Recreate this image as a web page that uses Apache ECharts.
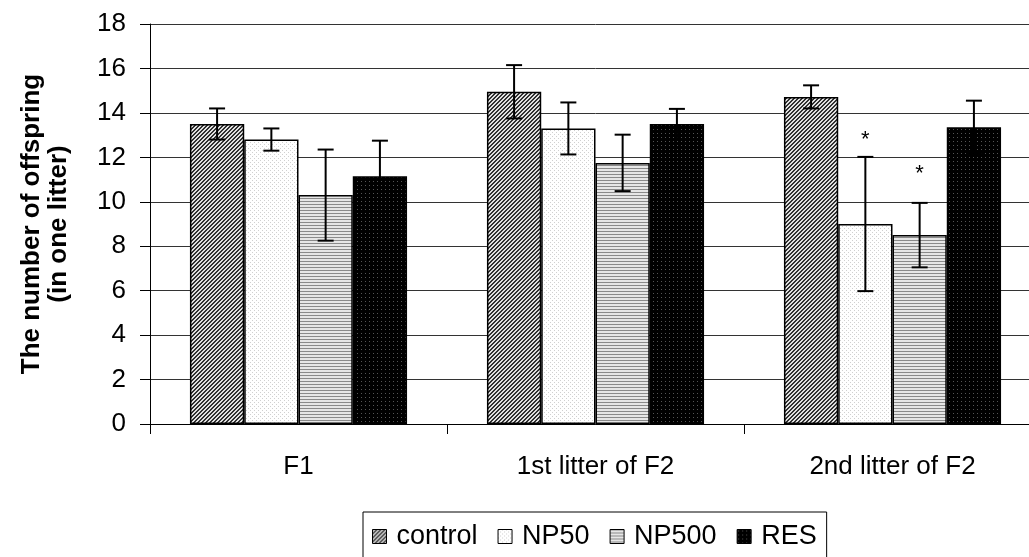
<!DOCTYPE html>
<html><head><meta charset="utf-8">
<script src="https://cdn.jsdelivr.net/npm/echarts@6/dist/echarts.min.js"></script>
<style>html,body{margin:0;padding:0;background:#fff;overflow:hidden}#c{width:1041px;height:557px}</style>
</head><body><div id="c"></div>
<script>
const categories = ['F1', '1st litter of F2', '2nd litter of F2'];
const seriesNames = ['control', 'NP50', 'NP500', 'RES'];
const controlVals = [13.5, 14.95, 14.72];
const np50Vals = [12.8, 13.3, 9.0];
const np500Vals = [10.3, 11.75, 8.5];
const resVals = [11.15, 13.5, 13.35];
const controlErr = [0.7, 1.2, 0.52];
const np50Err = [0.5, 1.17, 3.02];
const np500Err = [2.05, 1.27, 1.45];
const resErr = [1.6, 0.68, 1.2];
// significance stars: [category index, series index, y position]
const stars = [[2, 1, 13.0], [2, 2, 11.5]];
const yTicks = [0, 2, 4, 6, 8, 10, 12, 14, 16, 18];

const values = [controlVals, np50Vals, np500Vals, resVals];
const errs = [controlErr, np50Err, np500Err, resErr];
const FONT = 'Liberation Sans, Arial, sans-serif';

function makePattern(w, h, draw) {
  const cv = document.createElement('canvas');
  cv.width = w; cv.height = h;
  const ctx = cv.getContext('2d');
  draw(ctx);
  return { image: cv, repeat: 'repeat' };
}
const patControl = makePattern(4, 4, ctx => {
  ctx.fillStyle = '#e0e0e0'; ctx.fillRect(0, 0, 4, 4);
  ctx.fillStyle = '#303030';
  for (let i = 0; i < 4; i++) { ctx.fillRect(3 - i, i, 1, 1); ctx.fillRect((3 - i + 1) % 4, i, 1, 1); }
});
const patNP50 = makePattern(4, 4, ctx => {
  ctx.fillStyle = '#ffffff'; ctx.fillRect(0, 0, 4, 4);
  ctx.fillStyle = '#d0d0d0';
  ctx.fillRect(0, 0, 1, 1); ctx.fillRect(2, 2, 1, 1);
});
const patNP500 = makePattern(4, 3, ctx => {
  ctx.fillStyle = '#e6e6e6'; ctx.fillRect(0, 0, 4, 3);
  ctx.fillStyle = '#8a8a8a'; ctx.fillRect(0, 0, 4, 1);
});
const patRES = makePattern(4, 4, ctx => {
  ctx.fillStyle = '#000000'; ctx.fillRect(0, 0, 4, 4);
  ctx.fillStyle = '#555555'; ctx.fillRect(1, 1, 1, 1);
});
const patterns = [patControl, patNP50, patNP500, patRES];

const GAP = 0.269;
const errData = [];
for (let s = 0; s < 4; s++) for (let c = 0; c < 3; c++) errData.push([c, values[s][c], s, errs[s][c]]);
const starData = stars.map(st => [st[0], st[2], st[1]]);

function offsetX(api, s) {
  const bandW = api.size([1, 0])[0];
  const barW = bandW * (1 - GAP) / 4;
  return -2 * barW + (s + 0.5) * barW;
}

const barSeries = seriesNames.map((n, s) => ({
  name: n, type: 'bar', data: values[s], barGap: '0%', barCategoryGap: (GAP * 100) + '%',
  itemStyle: { color: patterns[s], borderColor: '#000', borderWidth: 1.5 },
  emphasis: { disabled: true }
}));

const option = {
  animation: false,
  backgroundColor: '#fff',
  textStyle: { fontFamily: FONT },
  grid: { left: 150, right: 0, top: 24, height: 400, containLabel: false },
  legend: {
    data: seriesNames, top: 512, left: 363,
    itemWidth: 14, itemHeight: 14, itemGap: 20, icon: 'rect',
    borderColor: '#000', borderWidth: 1, padding: [11, 10, 20, 9],
    textStyle: { fontSize: 27, color: '#000', fontFamily: FONT, padding: [0, 0, 0, 5] },
    itemStyle: { borderColor: '#000', borderWidth: 1 }
  },
  xAxis: {
    type: 'category', data: categories,
    axisLine: { lineStyle: { color: '#000', width: 1 } },
    axisTick: { show: true, length: 10, lineStyle: { color: '#000' } },
    axisLabel: { fontSize: 26, color: '#000', margin: 30 }
  },
  yAxis: {
    type: 'value', min: yTicks[0], max: yTicks[yTicks.length - 1], interval: 2,
    name: 'The number of offspring\n(in one litter)', nameLocation: 'middle', nameRotate: 90, nameGap: 78,
    nameTextStyle: { fontSize: 26, fontWeight: 'bold', color: '#000', lineHeight: 27 },
    axisLine: { show: true, lineStyle: { color: '#000', width: 1 } },
    axisTick: { show: true, inside: false, length: 10, lineStyle: { color: '#000' } },
    axisLabel: { fontSize: 26, color: '#000', margin: 24 },
    splitLine: { show: true, lineStyle: { color: '#333', width: 1 } }
  },
  series: barSeries.concat([
    {
      type: 'custom', name: 'err', data: errData, z: 10,
      renderItem: (params, api) => {
        const c = api.value(0), v = api.value(1), s = api.value(2), e = api.value(3);
        const dx = offsetX(api, s);
        const top = api.coord([c, v + e]);
        const bot = api.coord([c, v - e]);
        const x = top[0] + dx;
        const cap = 8;
        const st = { stroke: '#000', lineWidth: 2 };
        return { type: 'group', children: [
          { type: 'line', shape: { x1: x, y1: top[1], x2: x, y2: bot[1] }, style: st },
          { type: 'line', shape: { x1: x - cap, y1: top[1], x2: x + cap, y2: top[1] }, style: st },
          { type: 'line', shape: { x1: x - cap, y1: bot[1], x2: x + cap, y2: bot[1] }, style: st }
        ] };
      }
    },
    {
      type: 'custom', name: 'star', data: starData, z: 11,
      renderItem: (params, api) => {
        const c = api.value(0), y = api.value(1), s = api.value(2);
        const p = api.coord([c, y]);
        return { type: 'text', style: { text: '*', x: p[0] + offsetX(api, s), y: p[1] + 5,
          align: 'center', verticalAlign: 'middle', fill: '#000', font: '22px Liberation Sans' } };
      }
    }
  ])
};
const chart = echarts.init(document.getElementById('c'), null, { renderer: 'canvas' });
chart.setOption(option);
</script></body></html>
